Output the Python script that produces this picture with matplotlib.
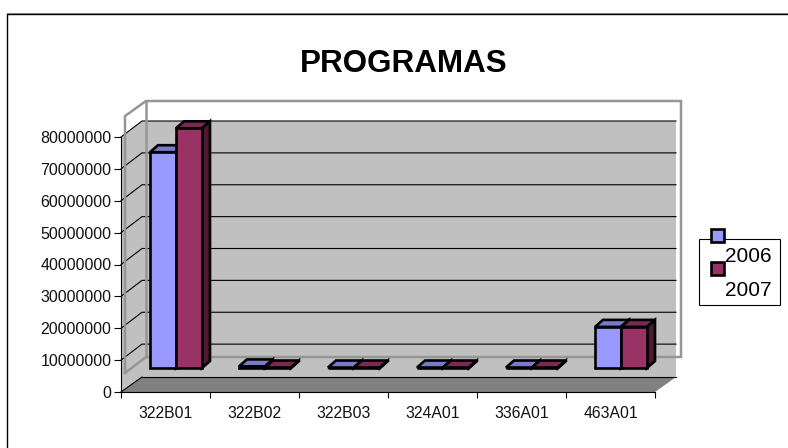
import matplotlib
matplotlib.use('Agg')
import matplotlib.pyplot as plt
from matplotlib.patches import Polygon, Rectangle

plt.rcParams['font.family'] = ['Liberation Sans', 'DejaVu Sans']

programas = ['322B01', '322B02', '322B03', '324A01', '336A01', '463A01']
valores_2006 = [67700000, 500000, 150000, 150000, 150000, 12900000]
valores_2007 = [75200000, 150000, 150000, 150000, 150000, 12900000]
y_ticks = list(range(0, 90000000, 10000000))

W, H = 788, 448
blue = '#9999ff'
blue_top = '#7a7acc'
wine = '#993366'
wine_top = '#7a2952'
wine_side = '#4d1a33'
wall = '#c0c0c0'
floor = '#808080'
frame = '#969696'

fig = plt.figure(figsize=(W / 100, H / 100), dpi=100, facecolor='white')


def fig_box(x0, y0, x1, y1):
    # pixel box, y from the top
    return [x0 / W, 1 - y1 / H, (x1 - x0) / W, (y1 - y0) / H]


# whole picture overlay in pixels, for the chart area border and the legend
bg = fig.add_axes([0, 0, 1, 1], zorder=0)
bg.set_xlim(0, W)
bg.set_ylim(H, 0)
bg.axis('off')
bg.plot([7.5, 788], [13.5, 13.5], color='#a0a0a0', lw=0.8)
bg.plot([7.5, 7.5, 788], [448, 14.5, 14.5], color='black', lw=1.0)

ax = fig.add_axes(fig_box(121, 137, 655, 392), zorder=1)
ax.patch.set_alpha(0)
ax.set_xlim(0, len(programas))
ax.set_ylim(0, 80000000)
ppx = len(programas) / 534
ppy = 80000000 / 255


def off(x, y, dx=0, dy=0):
    # data position moved by a depth offset in pixels
    return (x + dx * ppx, y + dy * ppy)


# walls
top = y_ticks[-1]
n = len(programas)
ax.add_patch(Polygon([off(0, 0, 21, 15), off(n, 0, 21, 15), off(n, top, 21, 16), off(0, top, 21, 16)],
                     fc=wall, ec='none', zorder=1, clip_on=False))
ax.add_patch(Polygon([off(0, 0), off(0, 0, 21, 15), off(0, top, 21, 16), off(0, top)],
                     fc=wall, ec='none', zorder=1, clip_on=False))
ax.add_patch(Polygon([off(0, 0), off(n, 0), off(n, 0, 21, 15), off(0, 0, 21, 15)],
                     fc=floor, ec='none', zorder=2, clip_on=False))
ax.plot(*zip(off(0, 0, 21, 15), off(n, 0, 21, 15)), color='black', lw=0.8, zorder=2, clip_on=False)
ax.plot(*zip(off(0, 0), off(0, 0, 21, 15)), color='black', lw=0.8, zorder=3, clip_on=False)

# gridlines
for v in y_ticks[1:]:
    ax.plot(*zip(off(0, v), off(0, v, 21, 16), off(n, v, 21, 16)), color='black', lw=0.8, zorder=2, clip_on=False)

# grey outline floating over the walls
ol = [off(0, 0, 4, 19), off(0, 0, 25, 35), off(n, 0, 26, 35), off(n, top, 26, 36), off(0, top, 25, 36), off(0, top, 4, 21), off(0, 0, 4, 19)]
ax.plot(*zip(*ol), color=frame, lw=1.8, zorder=3, clip_on=False, solid_joinstyle='miter')
ax.plot(*zip(off(0, 0, 25, 35), off(0, top, 25, 36)), color=frame, lw=1.8, zorder=3, clip_on=False)


def bar3d(x, v, w, face, ctop, cside):
    # front face floats 24 px above the axis line, as in the original
    bdy = 24
    d = (8, 7)
    lb = off(x, 0, 0, bdy)
    rb = off(x + w, 0, 0, bdy)
    rt = off(x + w, v, 0, bdy)
    lt = off(x, v, 0, bdy)
    kw = dict(ec='black', lw=1.9, joinstyle='miter', clip_on=False, zorder=5)
    ax.add_patch(Polygon([lt, rt, off(x + w, v, d[0], bdy + d[1]), off(x, v, d[0], bdy + d[1])], fc=ctop, **kw))
    ax.add_patch(Polygon([rb, rt, off(x + w, v, d[0], bdy + d[1]), off(x + w, 0, d[0], bdy + d[1])], fc=cside, **kw))
    ax.add_patch(Polygon([lb, rb, rt, lt], fc=face, **kw))


w = 26 * ppx
start = 29 * ppx
for i in range(n):
    bar3d(i + start, valores_2006[i], w, blue, blue_top, '#4d4d80')
    bar3d(i + start + w, valores_2007[i], w, wine, wine_top, wine_side)

ax.set_xticks(range(n + 1))
ax.set_xticklabels([])
ax.set_xticks([i + 0.5 for i in range(n)], minor=True)
ax.set_xticklabels(programas, minor=True, fontsize=11.3, color='#111111')
ax.tick_params(axis='x', which='minor', length=0, pad=10)
ax.tick_params(axis='x', which='major', length=4, width=0.8)
ax.set_yticks(y_ticks)
ax.set_yticklabels([str(v) for v in y_ticks], fontsize=11.5, color='#111111')
ax.tick_params(axis='y', length=5, width=0.8, pad=2)
for s in ['top', 'right']:
    ax.spines[s].set_visible(False)
for s in ['left', 'bottom']:
    ax.spines[s].set_linewidth(0.8)
    ax.spines[s].set_zorder(4)

fig.text(404 / W, 1 - 63.5 / H, 'PROGRAMAS', ha='center', va='center', fontsize=22.6, fontweight='bold', color='black')

# legend, built by hand because the markers stick out of the box like the original
bg.add_patch(Rectangle((699, 239), 81, 66, fc='white', ec='black', lw=0.8, zorder=2))
series = ['2006', '2007']
for i, (lab, col) in enumerate(zip(series, [blue, wine])):
    bg.add_patch(Rectangle((711, 229.5 + i * 33), 13, 13, fc=col, ec='black', lw=1.9, zorder=3))
    bg.text(725, 256 + i * 34, lab, fontsize=15, va='center', ha='left', zorder=3)

fig.savefig('out.png', dpi=100)
